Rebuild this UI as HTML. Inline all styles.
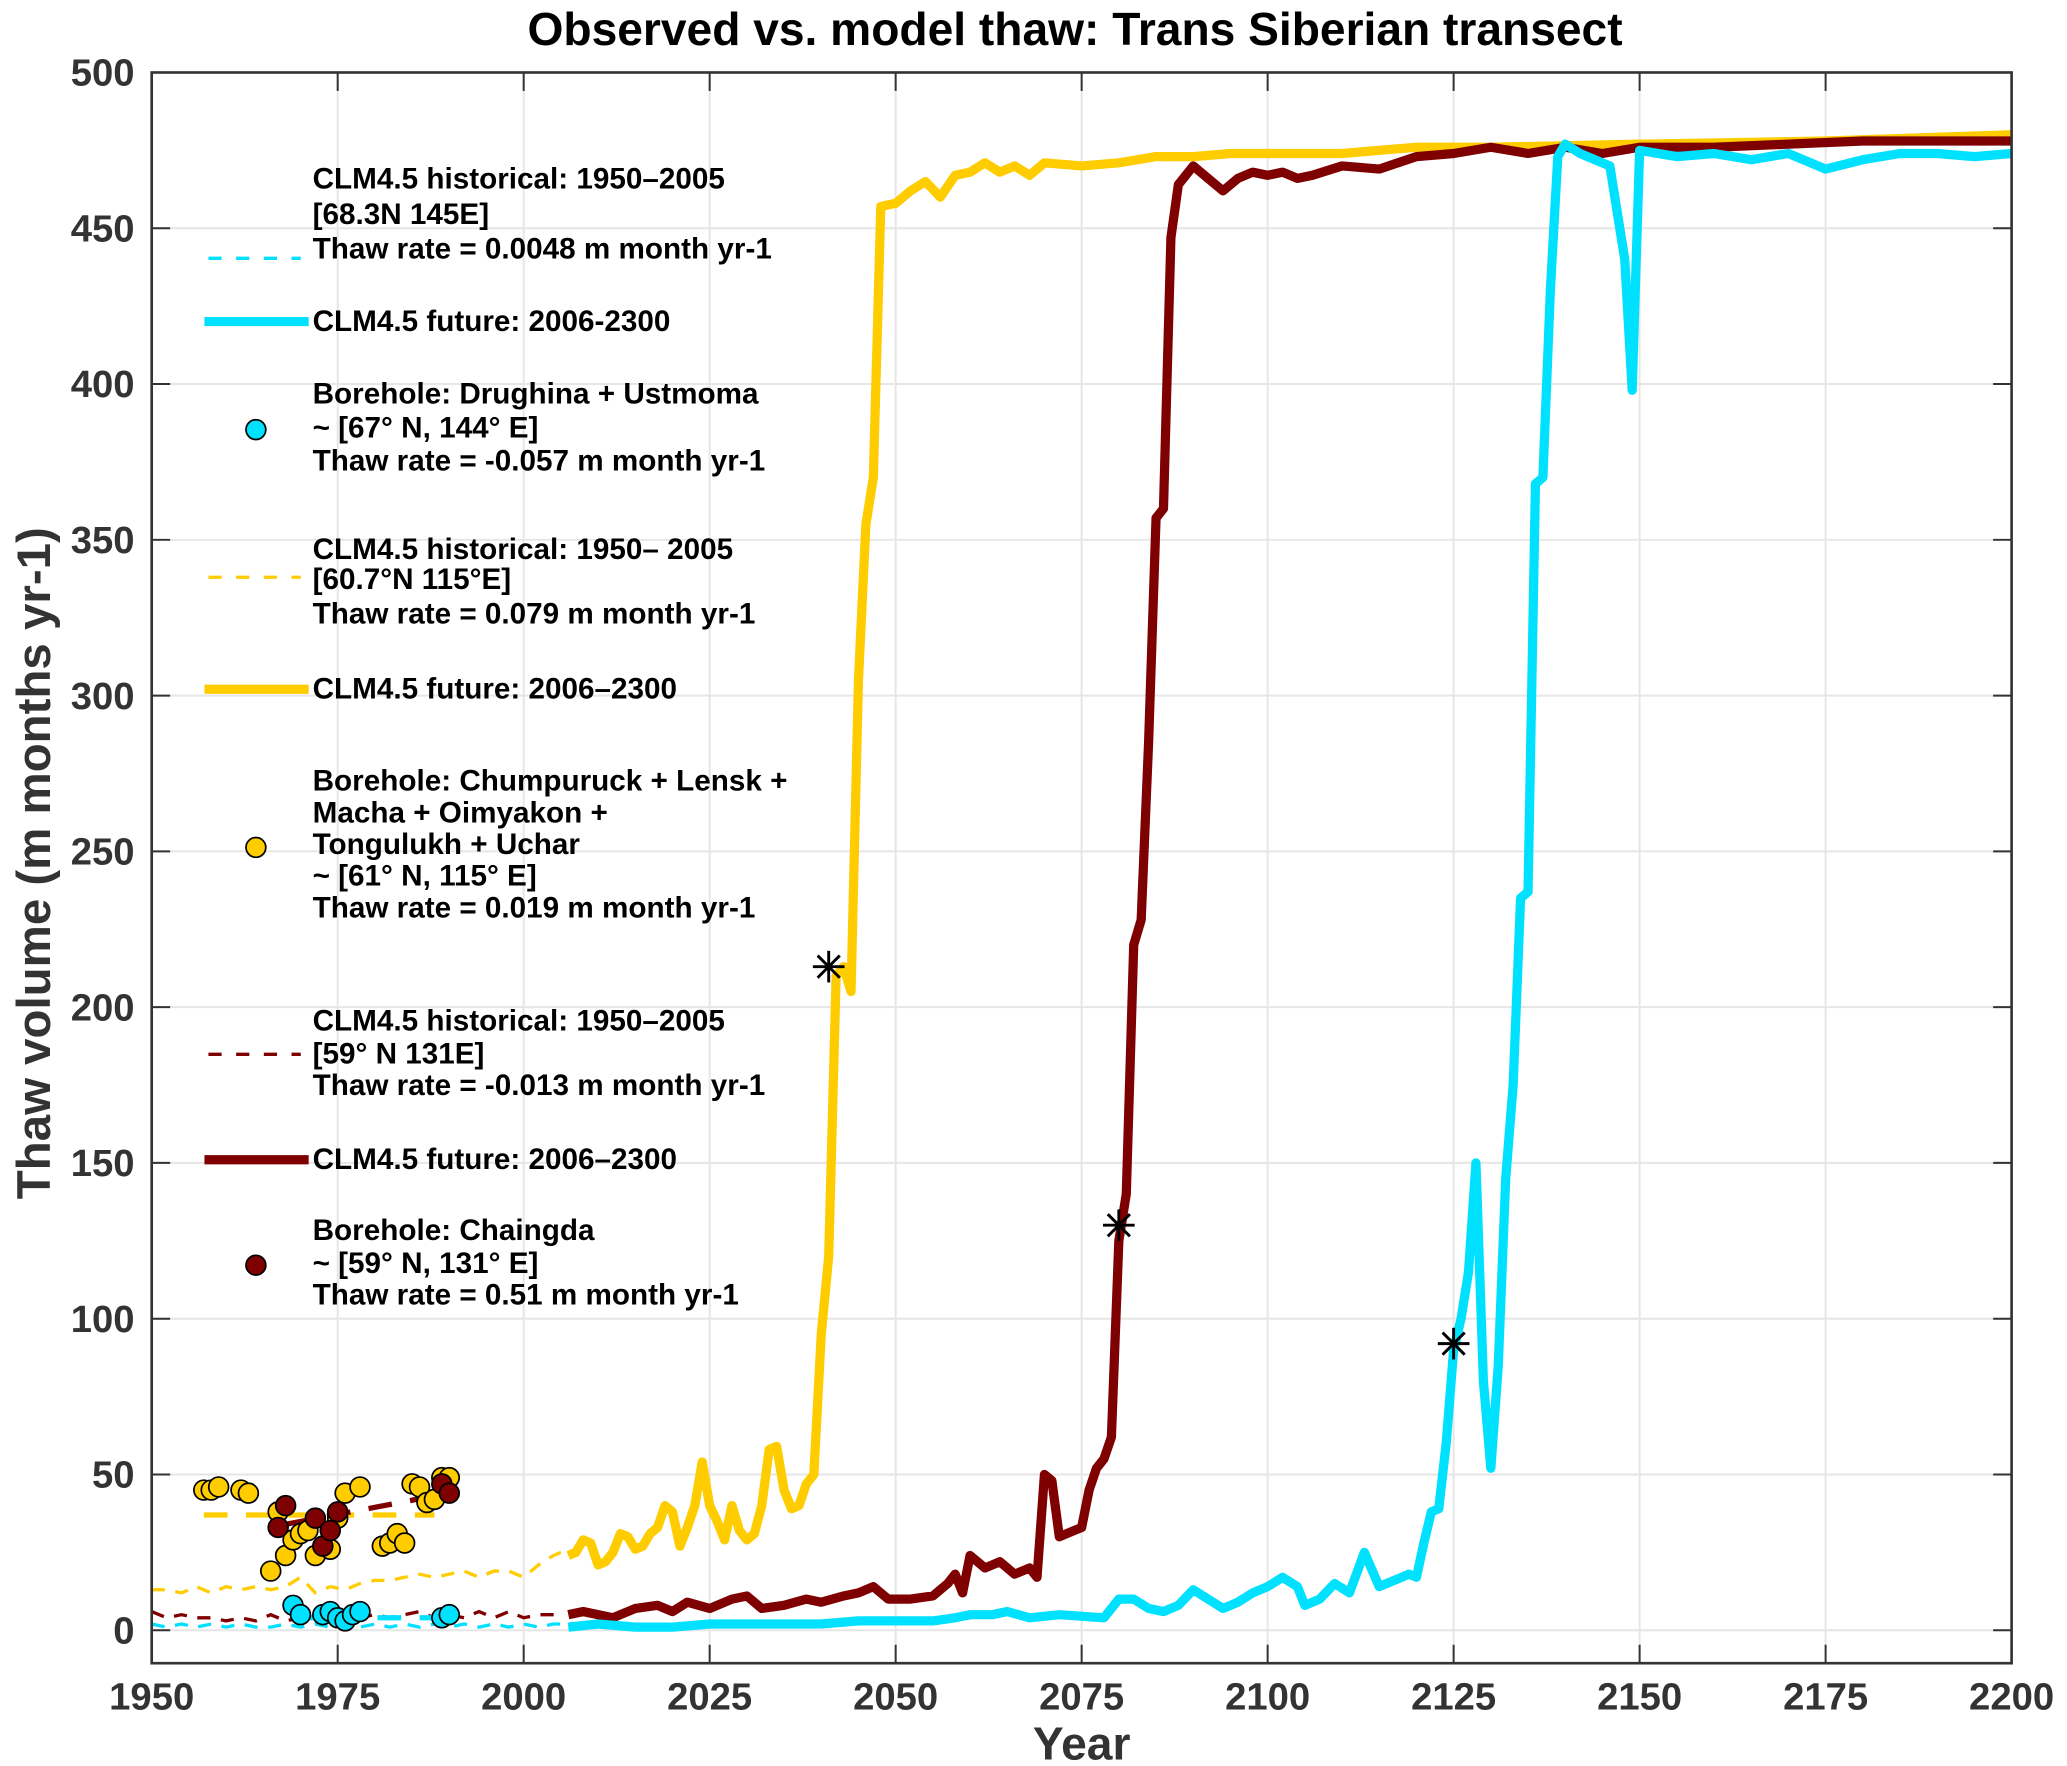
<!DOCTYPE html>
<html><head><meta charset="utf-8"><style>
html,body{margin:0;padding:0;background:#fff}
svg{display:block}
text{font-family:"Liberation Sans",sans-serif;font-weight:bold}
</style></head><body>
<svg id="chart" width="2067" height="1766" viewBox="0 0 1567 1340" preserveAspectRatio="none" xmlns="http://www.w3.org/2000/svg">
<text x="815" y="34" font-size="35" text-anchor="middle" fill="#000">Observed vs. model thaw: Trans Siberian transect</text>
<g id="grid"></g>
<g id="series"></g>
<g id="axes"></g>
<g id="legend"></g>
<text x="820" y="1335" font-size="35" text-anchor="middle" fill="#333">Year</text>
<text x="0" y="0" font-size="36" text-anchor="middle" fill="#333" transform="translate(38 655) rotate(-90)">Thaw volume (m months yr-1)</text>
</svg>
<script>
const xTicks=[1950,1975,2000,2025,2050,2075,2100,2125,2150,2175,2200];
const yTicks=[0,50,100,150,200,250,300,350,400,450,500];
const yelFutYears=[2006,2007,2008,2009,2010,2011,2012,2013,2014,2015,2016,2017,2018,2019,2020,2021,2022,2023,2024,2025,2026,2027,2028,2029,2030,2031,2032,2033,2034,2035,2036,2037,2038,2039,2040,2041,2042,2043,2044,2045,2046,2047,2048,2050,2052,2054,2056,2058,2060,2062,2064,2066,2068,2070,2075,2080,2085,2090,2095,2100,2110,2120,2130,2150,2175,2200];
const yelFutVals=[24,25,29,28,21,22,25,31,30,26,27,31,33,40,38,27,33,40,54,40,35,29,40,32,29,31,40,58,59,45,39,40,47,50,95,120,210,213,205,305,355,370,457,458,462,465,460,467,468,471,468,470,467,471,470,471,473,473,474,474,474,476,476,477,478,480];
const redFutYears=[2006,2008,2010,2012,2015,2018,2020,2022,2025,2028,2030,2032,2035,2038,2040,2043,2045,2047,2049,2052,2055,2057,2058,2059,2060,2062,2064,2066,2068,2069,2070,2071,2072,2074,2075,2076,2077,2078,2079,2080,2081,2082,2083,2084,2085,2086,2087,2088,2090,2092,2094,2096,2098,2100,2102,2104,2106,2110,2115,2120,2125,2130,2135,2140,2145,2150,2160,2170,2180,2190,2200];
const redFutVals=[5,6,5,4,7,8,6,9,7,10,11,7,8,10,9,11,12,14,10,10,11,15,18,12,24,20,22,18,20,17,50,48,30,32,33,45,52,55,62,125,140,220,228,285,357,360,447,464,470,466,462,466,468,467,468,466,467,470,469,473,474,476,474,476,474,476,476,477,478,478,478];
const cyanFutYears=[2006,2010,2015,2020,2025,2030,2035,2040,2045,2050,2055,2058,2060,2063,2065,2068,2072,2078,2080,2082,2084,2086,2088,2090,2092,2094,2096,2098,2100,2102,2104,2105,2107,2109,2111,2113,2115,2117,2119,2120,2121,2122,2123,2124,2125,2126,2127,2128,2129,2130,2131,2132,2133,2134,2135,2136,2137,2138,2139,2140,2142,2144,2146,2148,2149,2150,2155,2160,2165,2170,2175,2180,2185,2190,2195,2200];
const cyanFutVals=[1,2,1,1,2,2,2,2,3,3,3,4,5,5,6,4,5,4,10,10,7,6,8,13,10,7,9,12,14,17,14,8,10,15,12,25,14,16,18,17,28,38,39,60,90,100,115,150,80,52,85,145,175,235,237,368,370,430,473,477,474,472,470,440,398,475,473,474,472,474,469,472,474,474,473,474];
const histYears=[1950,1952,1954,1956,1958,1960,1962,1964,1966,1968,1970,1972,1974,1976,1978,1980,1982,1984,1986,1988,1990,1992,1994,1996,1998,2000,2002,2004,2005];
const yelHistVals=[13,13,12,14,12,14,13,14,13,14,17,12,14,13,15,16,16,17,18,17,18,19,17,19,19,17,21,24,25];
const redHistVals=[6,4,5,4,4,3,4,3,5,3,4,4,5,5,4,5,4,5,6,4,5,4,6,4,6,4,5,5,5];
const cyanHistVals=[2,1,2,1,2,1,2,1,1,2,1,2,1,2,1,2,1,2,1,2,1,2,1,2,1,2,1,2,2];
const yelObsYears=[1957,1958,1959,1962,1963,1966,1967,1968,1969,1970,1971,1972,1974,1975,1976,1978,1981,1982,1983,1984,1985,1986,1987,1988,1989,1990];
const yelObsVals=[45,45,46,45,44,19,38,24,29,31,32,24,26,36,44,46,27,28,31,28,47,46,41,42,49,49];
const redObsYears=[1967,1968,1972,1973,1974,1975,1989,1990];
const redObsVals=[33,40,36,27,32,38,47,44];
const cyanObsYears=[1969,1970,1973,1974,1975,1976,1977,1978,1989,1990];
const cyanObsVals=[8,5,5,6,4,3,5,6,4,5];
const trendYears=[1957,1988];
const yelTrendVals=[37,37];
const redTrendYears=[1968,1990];
const redTrendVals=[34,44];
const cyanTrendYears=[1969,1988];
const cyanTrendVals=[4,4];
const starYears=[2041,2080,2125];
const starVals=[213,130,92];

const NS="http://www.w3.org/2000/svg";
const L=115,R=1525,T=55,B=1262;
const X=v=>L+(v-1950)/(2200-1950)*(R-L);
const Y=v=>1237-(v/500)*(1237-T);
function el(tag,attrs,parent){const e=document.createElementNS(NS,tag);for(const k in attrs)e.setAttribute(k,attrs[k]);parent.appendChild(e);return e;}
const grid=document.getElementById('grid'),axes=document.getElementById('axes'),ser=document.getElementById('series'),leg=document.getElementById('legend');
xTicks.forEach(t=>{
  const g=el('line',{x1:X(t),x2:X(t),y1:T,y2:B,stroke:'#e6e6e6','stroke-width':1.5},grid);
  
  
  el('line',{x1:X(t),x2:X(t),y1:B,y2:B-14,stroke:'#333','stroke-width':1.5},axes);
  el('line',{x1:X(t),x2:X(t),y1:T,y2:T+14,stroke:'#333','stroke-width':1.5},axes);
  const tx=el('text',{x:X(t),y:1297,'font-size':29,'text-anchor':'middle',fill:'#333'},axes);
  tx.textContent=t;
  
  
});
yTicks.forEach(t=>{
  const g=el('line',{x1:L,x2:R,y1:Y(t),y2:Y(t),stroke:'#e6e6e6','stroke-width':1.5},grid);
  
  
  el('line',{x1:L,x2:L+14,y1:Y(t),y2:Y(t),stroke:'#333','stroke-width':1.5},axes);
  el('line',{x1:R,x2:R-14,y1:Y(t),y2:Y(t),stroke:'#333','stroke-width':1.5},axes);
  const tx=el('text',{x:102,y:Y(t)+10,'font-size':29,'text-anchor':'end',fill:'#333'},axes);
  tx.textContent=t;
  
  
});
const box=el('rect',{x:L,y:T,width:R-L,height:B-T,fill:'none',stroke:'#333','stroke-width':2},axes);



const YEL='#ffcc00',RED='#7f0000',CYAN='#00e0ff';
function line(xs,ys,col,w,dash,name){
  const p=el('polyline',{points:xs.map((x,i)=>X(x)+','+Y(ys[i])).join(' '),fill:'none',stroke:col,'stroke-width':w,'stroke-linejoin':'round'},ser);
  if(dash)p.setAttribute('stroke-dasharray',dash);
  
  
}
line(histYears,yelHistVals,YEL,2.5,'10 8','yellow-historical-line');
line(histYears,redHistVals,RED,2.5,'10 8','red-historical-line');
line(histYears,cyanHistVals,CYAN,2.5,'10 8','cyan-historical-line');
line(trendYears,yelTrendVals,YEL,4,'18 14','yellow-borehole-trend');
line(redTrendYears,redTrendVals,RED,4,'18 14','red-borehole-trend');
line(cyanTrendYears,cyanTrendVals,CYAN,4,'18 14','cyan-borehole-trend');
line(yelFutYears,yelFutVals,YEL,7,null,'yellow-future-line');
line(redFutYears,redFutVals,RED,7,null,'red-future-line');
line(cyanFutYears,cyanFutVals,CYAN,7,null,'cyan-future-line');
function dots(xs,ys,col,name){xs.forEach((x,i)=>{
  const c=el('circle',{cx:X(x),cy:Y(ys[i]),r:7.5,fill:col,stroke:'#000','stroke-width':1.3},ser);
  
  
});}
dots(yelObsYears,yelObsVals,YEL,'yellow-borehole-point');
dots(redObsYears,redObsVals,RED,'red-borehole-point');
dots(cyanObsYears,cyanObsVals,CYAN,'cyan-borehole-point');
starYears.forEach((x,i)=>{
  const g=el('g',{stroke:'#000','stroke-width':2.2},ser);
  
  
  const cx=X(x),cy=Y(starVals[i]),s=12;
  el('line',{x1:cx-s,x2:cx+s,y1:cy,y2:cy},g);
  el('line',{x1:cx,x2:cx,y1:cy-s,y2:cy+s},g);
  el('line',{x1:cx-s*.7,x2:cx+s*.7,y1:cy-s*.7,y2:cy+s*.7},g);
  el('line',{x1:cx-s*.7,x2:cx+s*.7,y1:cy+s*.7,y2:cy-s*.7},g);
});
const entries=[
 {type:'dash',col:CYAN,sy:196,lines:[[143,'CLM4.5 historical: 1950–2005'],[170,'[68.3N 145E]'],[196,' Thaw rate = 0.0048 m month yr-1']]},
 {type:'thick',col:CYAN,sy:244,lines:[[251,'CLM4.5 future: 2006-2300']]},
 {type:'dot',col:CYAN,sy:326,lines:[[306,'Borehole: Drughina + Ustmoma'],[332,' ~ [67° N, 144° E]'],[357,'Thaw rate = -0.057 m month yr-1']]},
 {type:'dash',col:YEL,sy:438,lines:[[424,'CLM4.5 historical: 1950– 2005'],[447,'[60.7°N 115°E]'],[473,' Thaw rate = 0.079 m month yr-1']]},
 {type:'thick',col:YEL,sy:523,lines:[[530,'CLM4.5 future: 2006–2300']]},
 {type:'dot',col:YEL,sy:643,lines:[[600,'Borehole: Chumpuruck + Lensk +'],[624,'Macha + Oimyakon +'],[648,'Tongulukh + Uchar'],[672,' ~ [61° N, 115° E]'],[696,'Thaw rate = 0.019 m month yr-1']]},
 {type:'dash',col:RED,sy:800,lines:[[782,'CLM4.5 historical: 1950–2005'],[807,'[59° N 131E]'],[831,' Thaw rate = -0.013 m month yr-1']]},
 {type:'thick',col:RED,sy:880,lines:[[887,'CLM4.5 future: 2006–2300']]},
 {type:'dot',col:RED,sy:960,lines:[[941,'Borehole: Chaingda'],[966,' ~ [59° N, 131° E]'],[990,' Thaw rate = 0.51 m month yr-1']]}
];
entries.forEach(e=>{
  const g=el('g',{},leg);
  
  
  if(e.type==='dash')el('line',{x1:158,x2:228,y1:e.sy,y2:e.sy,stroke:e.col,'stroke-width':2.5,'stroke-dasharray':'10 11'},g);
  if(e.type==='thick')el('line',{x1:155,x2:234,y1:e.sy,y2:e.sy,stroke:e.col,'stroke-width':7},g);
  if(e.type==='dot')el('circle',{cx:194,cy:e.sy,r:7.5,fill:e.col,stroke:'#000','stroke-width':1.3},g);
  e.lines.forEach(([y,s])=>{
    const t=el('text',{x:237,y:y,'font-size':22.5,fill:'#000','xml:space':'preserve'},g);
    t.textContent=s;
  });
});
</script>
</body></html>
